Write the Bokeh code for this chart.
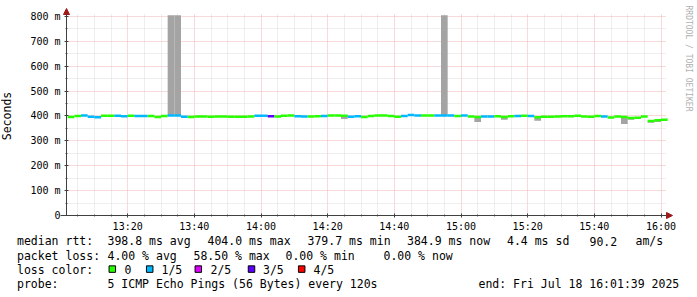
import numpy as np
from bokeh.plotting import figure
from bokeh.models import Range1d, FixedTicker, Arrow, NormalHead, ColumnDataSource
from bokeh.core.properties import value
from bokeh.embed import file_html
from bokeh.resources import INLINE

MONO = "DejaVu Sans Mono"

# ---------------- data ----------------
# time axis: minutes after 13:00; graph spans 13:01:39 .. 16:01:39
view_start_min = 1.65
view_end_min = 181.65
step_minutes = 2          # probe every 120 s
first_step_end = 4        # first step ends 13:04

median_ms = [
    396, 400, 402, 397, 395, 401, 401, 401, 399, 401,
    400, 400, 400, 396, 400, 402, 402, 397, 396, 398,
    398, 397, 398, 398, 397, 397, 397, 398, 401, 401,
    399, 398, 401, 402, 399, 398, 398, 399, 400, 402,
    402, 401, 397, 399, 396, 400, 402, 402, 400, 397,
    400, 404, 402, 402, 402, 402, 402, 402, 400, 402,
    398, 396, 398, 398, 399, 396, 399, 400, 401, 400,
    395, 397, 397, 398, 399, 399, 401, 398, 397, 400,
    398, 394, 398, 396, 392, 393, 398, 380, 383, 385,
]
loss_fifths = [
    0, 0, 1, 1, 1, 0, 0, 1, 1, 0,
    1, 1, 0, 0, 0, 1, 1, 1, 0, 0,
    0, 0, 0, 0, 0, 0, 0, 0, 1, 1,
    3, 0, 0, 0, 1, 1, 0, 0, 1, 0,
    0, 0, 1, 1, 0, 0, 0, 0, 0, 0,
    1, 1, 1, 0, 0, 1, 1, 1, 0, 1,
    0, 0, 1, 1, 0, 0, 0, 1, 0, 1,
    0, 0, 0, 0, 0, 0, 0, 0, 0, 0,
    1, 0, 0, 0, 0, 0, 0, 0, 0, 0,
]

# visible smoke (spread of individual pings), by step end minute
smoke_steps = [34, 36, 86, 116, 126, 134, 144, 170, 172, 178, 180]
smoke_low = [402, 402, 388, 402, 376, 385, 381, 368, 385, 373, 376]
smoke_high = [805, 805, 401, 805, 396, 396, 395, 396, 392, 380, 383]

x_ticks = [20, 40, 60, 80, 100, 120, 140, 160, 180]
x_tick_labels = ["13:20", "13:40", "14:00", "14:20", "14:40", "15:00", "15:20", "15:40", "16:00"]
x_minor = [5, 10, 15, 25, 30, 35, 45, 50, 55, 65, 70, 75, 85, 90, 95, 105, 110, 115,
           125, 130, 135, 145, 150, 155, 165, 170, 175]
y_ticks = [0, 100, 200, 300, 400, 500, 600, 700, 800]
y_tick_labels = ["0", "100 m", "200 m", "300 m", "400 m", "500 m", "600 m", "700 m", "800 m"]
y_minor = [50, 150, 250, 350, 450, 550, 650, 750]

loss_labels = ["0", "1/5", "2/5", "3/5", "4/5"]
loss_colors = ["#26ff00", "#00b8ff", "#dd00ff", "#5e00ff", "#ff0000"]

row_titles = ["median rtt:", "packet loss:", "loss color:", "probe:"]
rtt_stats = ["398.8 ms avg", "404.0 ms max", "379.7 ms min", "384.9 ms now", "4.4 ms sd", "90.2", "am/s"]
loss_stats = ["4.00 % avg", "58.50 % max", "0.00 % min", "0.00 % now"]
probe_text = "5 ICMP Echo Pings (56 Bytes) every 120s"
end_text = "end: Fri Jul 18 16:01:39 2025"
watermark = "RRDTOOL / TOBI OETIKER"

# ---------------- layout (pixels) ----------------
W, H = 697, 297
A_LEFT, A_RIGHT, A_TOP, A_BOTTOM = 66, 666, 14, 215     # graph area in pixels
Y_END = 808

def px_x(px):
    return view_start_min + (px - A_LEFT) * (view_end_min - view_start_min) / (A_RIGHT - A_LEFT)

def px_y(py):
    return (A_BOTTOM - py) * Y_END / (A_BOTTOM - A_TOP)

PX_W = (view_end_min - view_start_min) / (A_RIGHT - A_LEFT)   # data units per pixel (x)
PX_H = Y_END / (A_BOTTOM - A_TOP)                             # data units per pixel (y)

MAJOR_GRID = "#f0b4b4"
MINOR_GRID = "#dcdcdc"

# ---------------- figure: frame covers the whole canvas ----------------
p = figure(width=W, height=H,
           x_range=Range1d(px_x(0), px_x(W)), y_range=Range1d(px_y(H), px_y(0)),
           output_backend="svg", toolbar_location=None, min_border=0)
p.outline_line_color = None
p.background_fill_color = "white"
p.border_fill_color = "white"

xt = FixedTicker(ticks=x_ticks, minor_ticks=x_minor)
yt = FixedTicker(ticks=y_ticks, minor_ticks=y_minor)
p.xaxis.ticker = xt
p.yaxis.ticker = yt
p.xaxis.major_label_overrides = dict(zip(x_ticks, x_tick_labels))
p.yaxis.major_label_overrides = dict(zip(y_ticks, y_tick_labels))
p.xaxis.fixed_location = 0
p.yaxis.fixed_location = view_start_min
p.xaxis.bounds = (view_start_min, view_end_min)
p.yaxis.bounds = (0, 800)

# grid: limited to the graph area
grid_ok = True
try:
    p.xgrid.ticker = xt
    p.ygrid.ticker = yt
    p.xgrid.cross_bounds = (0, px_y(A_TOP))
    p.ygrid.cross_bounds = (view_start_min, view_end_min)
    p.xgrid.bounds = (view_start_min, view_end_min)
    p.ygrid.bounds = (0, 800)
    for g in (p.xgrid, p.ygrid):
        g.grid_line_color = MAJOR_GRID
        g.grid_line_dash = "1 1"
        g.grid_line_width = 1
        g.minor_grid_line_color = MINOR_GRID
        g.minor_grid_line_dash = "1 1"
        g.minor_grid_line_width = 1
except Exception:
    grid_ok = False

if not grid_ok:
    p.xgrid.visible = False
    p.ygrid.visible = False
    top = px_y(A_TOP)
    p.segment(x0=x_minor, y0=0, x1=x_minor, y1=top, line_color=MINOR_GRID, line_dash="1 1")
    p.segment(x0=view_start_min, y0=y_minor, x1=view_end_min, y1=y_minor,
              line_color=MINOR_GRID, line_dash="1 1")
    p.segment(x0=x_ticks, y0=0, x1=x_ticks, y1=top, line_color=MAJOR_GRID, line_dash="1 1")
    p.segment(x0=view_start_min, y0=y_ticks[1:], x1=view_end_min, y1=y_ticks[1:],
              line_color=MAJOR_GRID, line_dash="1 1")

for ax in (p.xaxis, p.yaxis):
    ax.axis_line_color = None
    ax.major_tick_in = 2
    ax.major_tick_out = 2
    ax.minor_tick_in = 1
    ax.minor_tick_out = 1
    ax.major_tick_line_color = "#404040"
    ax.minor_tick_line_color = "#606060"
    ax.major_label_text_font = MONO
    ax.major_label_text_font_size = "10px"
    ax.major_label_text_color = "#000000"
p.xaxis.major_label_standoff = 3
p.yaxis.major_label_standoff = 4
p.yaxis.axis_label = "Seconds"
p.yaxis.axis_label_text_font = MONO
p.yaxis.axis_label_text_font_size = "11.5px"
p.yaxis.axis_label_text_font_style = "normal"
p.yaxis.axis_label_text_color = "#000000"
p.yaxis.axis_label_standoff = 13

# ---------------- data marks ----------------
n = len(median_ms)
step_end = np.array([first_step_end + i * step_minutes for i in range(n)], dtype=float)

ss = np.array(smoke_steps, dtype=float)
p.quad(left=ss - step_minutes, right=ss, bottom=smoke_low, top=smoke_high,
       fill_color="#a4a4a4", line_color=None)

src = ColumnDataSource(dict(
    x0=step_end - step_minutes, x1=step_end, y=median_ms,
    color=[loss_colors[l] for l in loss_fifths],
))
p.segment(x0="x0", y0="y", x1="x1", y1="y", color="color", line_width=2.5,
          line_cap="butt", source=src)

# axis lines with arrow heads
def head():
    return NormalHead(size=6, fill_color="#a01818", line_color="#a01818")

p.add_layout(Arrow(end=head(), x_start=view_start_min, y_start=0,
                   x_end=view_start_min, y_end=px_y(8), line_color="#404040", line_width=1))
p.add_layout(Arrow(end=head(), x_start=px_x(60), y_start=0,
                   x_end=px_x(672), y_end=0, line_color="#404040", line_width=1))

# watermark on the right
p.text(x=[px_x(688)], y=[px_y(5)], text=[watermark], angle=-np.pi / 2,
       text_font=value(MONO), text_font_size=value("8px"), text_color="#b0b0b0",
       text_align="left", text_baseline="middle")

# ---------------- stats / legend text ----------------
row_y = [240.7, 255.0, 269.3, 283.7]
texts = row_titles + rtt_stats + loss_stats + loss_labels + [probe_text, end_text]
xs = ([16.5, 16.5, 16.5, 16.5]
      + [107, 207, 307, 406.5, 506.5, 589, 635]
      + [107, 193, 285, 383]
      + [124, 161, 210, 262.5, 313]
      + [107, 478])
ys = (row_y
      + [row_y[0]] * len(rtt_stats)
      + [row_y[1]] * len(loss_stats)
      + [row_y[2]] * len(loss_labels)
      + [row_y[3], row_y[3]])
p.text(x=[px_x(v) for v in xs], y=[px_y(v) for v in ys], text=texts,
       text_font=value(MONO), text_font_size=value("11.5px"), text_color="#000000",
       text_align="left", text_baseline="middle")

sq_center = [111.8, 149.2, 197.8, 251.0, 301.2]
p.rect(x=[px_x(v) for v in sq_center], y=[px_y(268.6)] * len(sq_center),
       width=6.5 * PX_W, height=6.5 * PX_H,
       fill_color=loss_colors, line_color="#000000", line_width=1)

open("out.html", "w").write(file_html(p, INLINE))
